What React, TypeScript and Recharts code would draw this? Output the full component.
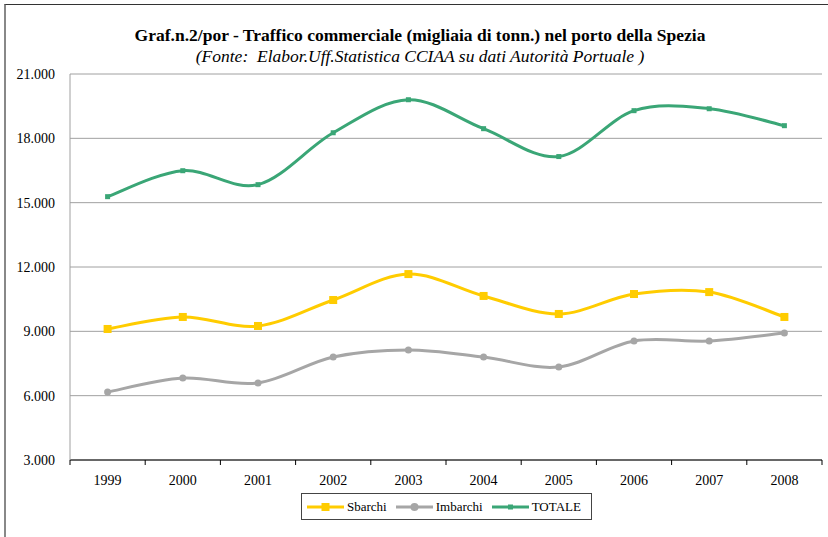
import React from "react";
import { LineChart, Line, XAxis, YAxis, CartesianGrid } from "recharts";

const years = ["1999", "2000", "2001", "2002", "2003", "2004", "2005", "2006", "2007", "2008"];
const sbarchi = [9110, 9670, 9250, 10460, 11670, 10650, 9810, 10740, 10830, 9670];
const imbarchi = [6170, 6820, 6590, 7800, 8130, 7800, 7340, 8550, 8550, 8920];
const totale = [15280, 16490, 15840, 18260, 19800, 18450, 17150, 19290, 19380, 18590];
const yTicks = [3000, 6000, 9000, 12000, 15000, 18000, 21000];

const data = years.map((y, i) => ({
  year: y,
  Sbarchi: sbarchi[i],
  Imbarchi: imbarchi[i],
  TOTALE: totale[i],
}));

const YELLOW = "#FFCC00";
const GREY = "#A6A6A6";
const GREEN = "#3AA676";
const FONT = "'Liberation Serif', 'Times New Roman', serif";
const HALF = 752 / years.length / 2;

// Excel style smoothing (Catmull-Rom through the points)
const excelCurve = (context: any) => {
  let pts: number[][] = [];
  return {
    areaStart() {},
    areaEnd() {},
    lineStart() {
      pts = [];
    },
    point(x: number, y: number) {
      pts.push([+x, +y]);
    },
    lineEnd() {
      if (!pts.length) return;
      context.moveTo(pts[0][0], pts[0][1]);
      for (let i = 0; i < pts.length - 1; i++) {
        const p0 = pts[i - 1] || pts[i];
        const p1 = pts[i];
        const p2 = pts[i + 1];
        const p3 = pts[i + 2] || p2;
        context.bezierCurveTo(
          p1[0] + (p2[0] - p0[0]) / 6,
          p1[1] + (p2[1] - p0[1]) / 6,
          p2[0] - (p3[0] - p1[0]) / 6,
          p2[1] - (p3[1] - p1[1]) / 6,
          p2[0],
          p2[1]
        );
      }
    },
  };
};

const fmtTick = (v: number) => (v / 1000).toFixed(3);

const SquareDot = (size: number, color: string) => (props: any) => {
  const { cx, cy, index } = props;
  if (cx == null || cy == null) return <g key={index} />;
  return <rect key={index} x={cx - size / 2} y={cy - size / 2} width={size} height={size} fill={color} />;
};

const CircleDot = (r: number, color: string) => (props: any) => {
  const { cx, cy, index } = props;
  if (cx == null || cy == null) return <g key={index} />;
  return <circle key={index} cx={cx} cy={cy} r={r} fill={color} />;
};

const XTick = (props: any) => {
  const { x, y, payload, index } = props;
  return (
    <g>
      <line x1={x - HALF} y1={y - 8} x2={x - HALF} y2={y - 3} stroke="#000" />
      {index === years.length - 1 && (
        <line x1={x + HALF} y1={y - 8} x2={x + HALF} y2={y - 3} stroke="#000" />
      )}
      <text x={x} y={y + 17} textAnchor="middle" fontFamily={FONT} fontSize={14} fill="#000">
        {payload.value}
      </text>
    </g>
  );
};

const legendItems = [
  { name: "Sbarchi", color: YELLOW, marker: "square" },
  { name: "Imbarchi", color: GREY, marker: "circle" },
  { name: "TOTALE", color: GREEN, marker: "small" },
];

export default function App() {
  return (
    <div
      style={{
        position: "absolute",
        left: 0,
        top: 0,
        width: 828,
        height: 537,
        background: "#fff",
        fontFamily: FONT,
      }}
    >
      <div style={{ position: "absolute", left: 4, top: 4, width: 824, height: 533, borderTop: "1px solid #333", borderLeft: "2px solid #888" }} />
      <div style={{ position: "absolute", left: 0, width: 840, top: 25, textAlign: "center", fontSize: 17.5, lineHeight: "20px", fontWeight: "bold", color: "#000" }}>
        Graf.n.2/por - Traffico commerciale (migliaia di tonn.) nel porto della Spezia
      </div>
      <div style={{ position: "absolute", left: 0, width: 840, top: 46, textAlign: "center", fontSize: 17.5, lineHeight: "20px", fontStyle: "italic", color: "#000" }}>
        (Fonte:&nbsp; Elabor.Uff.Statistica CCIAA su dati Autorità Portuale )
      </div>
      <div style={{ position: "absolute", left: 0, top: 0 }}>
        <LineChart width={828} height={537} data={data} margin={{ top: 74, right: 6, bottom: 47, left: 10 }}>
          <CartesianGrid horizontal vertical={false} stroke="#A0A0A0" />
          <XAxis
            dataKey="year"
            height={30}
            axisLine={{ stroke: "#000" }}
            tickLine={false}
            tick={<XTick />}
            interval={0}
            padding={{ left: HALF, right: HALF }}
          />
          <YAxis
            domain={[3000, 21000]}
            ticks={yTicks}
            width={60}
            axisLine={{ stroke: "#A0A0A0" }}
            tickLine={false}
            tickFormatter={fmtTick}
            tick={{ fontFamily: FONT, fontSize: 14, fill: "#000", dx: -7 }}
          />
          <YAxis
            yAxisId="right"
            orientation="right"
            width={0}
            tick={false}
            tickLine={false}
            axisLine={{ stroke: "#A0A0A0" }}
          />
          <Line dataKey="Imbarchi" type={excelCurve as any} stroke={GREY} strokeWidth={3} dot={CircleDot(3.5, GREY)} isAnimationActive={false} />
          <Line dataKey="Sbarchi" type={excelCurve as any} stroke={YELLOW} strokeWidth={3} dot={SquareDot(8, YELLOW)} isAnimationActive={false} />
          <Line dataKey="TOTALE" type={excelCurve as any} stroke={GREEN} strokeWidth={3} dot={SquareDot(5, GREEN)} isAnimationActive={false} />
        </LineChart>
      </div>
      <div
        style={{
          position: "absolute",
          left: 301,
          top: 493,
          width: 284,
          height: 25,
          border: "1px solid #444",
          display: "flex",
          alignItems: "center",
          paddingLeft: 5,
          boxSizing: "content-box",
        }}
      >
        {legendItems.map((it) => (
          <div key={it.name} style={{ display: "flex", alignItems: "center", marginRight: 9 }}>
            <svg width={37} height={12}>
              <line x1={0} y1={6} x2={37} y2={6} stroke={it.color} strokeWidth={3} />
              {it.marker === "square" && <rect x={14.5} y={2} width={8} height={8} fill={it.color} />}
              {it.marker === "circle" && <circle cx={18.5} cy={6} r={4} fill={it.color} />}
              {it.marker === "small" && <rect x={16} y={3.5} width={5} height={5} fill={it.color} />}
            </svg>
            <span style={{ fontSize: 13, marginLeft: 3, color: "#000" }}>{it.name}</span>
          </div>
        ))}
      </div>
    </div>
  );
}
